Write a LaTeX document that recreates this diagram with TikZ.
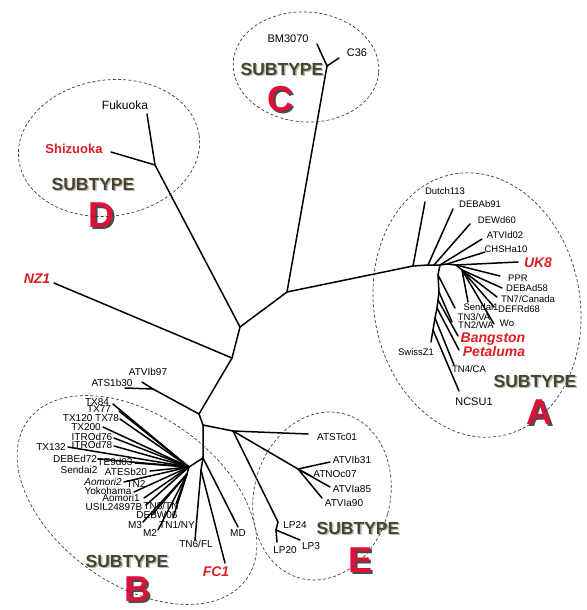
\documentclass[tikz,border=0pt]{standalone}
\usepackage{fontspec}
\setmainfont{Liberation Sans}
\usetikzlibrary{positioning}

\definecolor{strainred}{RGB}{222,30,36}
\definecolor{letterred}{RGB}{222,16,58}
\definecolor{subgray}{RGB}{72,68,44}

% text with a drop shadow in one box
\newcommand{\dropshade}[3]{\rlap{\kern#3\raisebox{-#3}{\color{#1}#2}}#2}

\begin{document}
\begin{tikzpicture}[x=1pt,y=-1pt,
		branch/.style={line width=1.5pt,line cap=round},
		clade/.style={dash pattern=on 3pt off 2.2pt,line width=0.7pt,black!75},
		strain/.style={inner sep=0pt,text height=0.72em,text depth=0pt,font=\fontsize{9.5}{10}\selectfont},
		bstrain/.style={strain,font=\fontsize{10}{11}\selectfont},
		keystrain/.style={strain,text=strainred,font=\fontsize{14}{15}\selectfont\bfseries\itshape},
		subtype/.style={inner sep=0pt,text height=12.6pt,text depth=0pt,text=subgray,font=\fontsize{17.5}{18}\selectfont\bfseries},
		letter/.style={inner sep=0pt,text height=26pt,text depth=0pt,text=letterred,font=\fontsize{36}{36}\selectfont\bfseries}]
	\useasboundingbox (0,0) rectangle (586,610);
	\fill[white] (0,0) rectangle (586,610);

	% Backbone
	\coordinate (nC) at (287,292);
	\coordinate (nD) at (240,327);
	\coordinate (nNZ) at (232,358);
	\coordinate (nLow) at (199,414);
	\coordinate (nBE) at (203,425);
	\coordinate (nB) at (203,458);
	\coordinate (nE) at (233,431);
	\draw[branch] (nC) -- (nD) -- (nNZ) -- (nLow) -- (nBE) -- (nB);
	\draw[branch] (nBE) -- (nE);

	% Subtype C
	\coordinate (cC) at (327,66);
	\coordinate (tBM) at (317,44);
	\coordinate (tC36) at (339,58);
	\draw[branch] (nC) -- (cC);
	\draw[branch] (tBM) -- (cC) -- (tC36);
	\node[strain,font=\fontsize{11}{12}\selectfont] (lBM) at (288,39) {BM3070};
	\node[strain,font=\fontsize{11}{12}\selectfont] (lC36) at (357,53) {C36};
	\node[subtype] (sC) at (282,69) {\dropshade{black!28}{SUBTYPE}{1.5pt}};
	\node[letter] (bC) at (280,98) {\dropshade{black!70}{C}{2pt}};
	\draw[clade,rotate around={-4:(306,67)}] (306,67) ellipse [x radius=73pt,y radius=55pt];

	% Subtype D
	\coordinate (dD) at (155,165);
	\coordinate (tFuk) at (147,114);
	\coordinate (tShi) at (111,152);
	\draw[branch] (nD) -- (dD) -- (tFuk);
	\draw[branch] (dD) -- (tShi);
	\node[strain,font=\fontsize{12}{13}\selectfont] (lFuk) at (125,106) {Fukuoka};
	\node[strain,text=strainred,font=\fontsize{13}{14}\selectfont\bfseries] (lShi) at (74,150) {Shizuoka};
	\node[subtype] (sD) at (93,184) {\dropshade{black!28}{SUBTYPE}{1.5pt}};
	\node[letter] (bD) at (101,214) {\dropshade{black!70}{D}{2pt}};
	\draw[clade,rotate around={8:(109,148)}] (109,148) ellipse [x radius=91pt,y radius=68pt];

	% NZ1
	\coordinate (tNZ) at (54,283);
	\draw[branch] (nNZ) -- (tNZ);
	\node[keystrain] (lNZ) at (37,280) {NZ1};

	% ATVIb97 / ATS1b30
	\coordinate (nAT) at (153,389);
	\coordinate (tATV97) at (142,382);
	\coordinate (tATS) at (125,388);
	\draw[branch] (nLow) -- (nAT) -- (tATV97);
	\draw[branch] (nAT) -- (tATS);
	\node[bstrain] (lATV97) at (148,372) {ATVIb97};
	\node[bstrain] (lATS) at (112,383) {ATS1b30};

	% Subtype A
	\coordinate (aD) at (413,266);
	\coordinate (aR) at (428,265);
	\coordinate (a1) at (434,265);
	\coordinate (a2) at (440,265);
	\coordinate (a3) at (447,264);
	\coordinate (a4) at (456,265);
	\coordinate (a5) at (462,270);
	\draw[branch] (nC) -- (aD) -- (aR) -- (a1) -- (a2) -- (a3) -- (a4) -- (a5);
	\coordinate (tDutch) at (425,202);
	\coordinate (tDEBAb) at (453,209);
	\coordinate (tDEWd) at (470,224);
	\coordinate (tATVId) at (482,239);
	\coordinate (tCHSH) at (485,252);
	\coordinate (tUK8) at (518,262);
	\coordinate (tPPR) at (500,276);
	\coordinate (tDEBAd) at (502,288);
	\coordinate (tTN7) at (497,297);
	\coordinate (tDEFR) at (494,307);
	\coordinate (tWo) at (494,324);
	\coordinate (tSen1) at (468,302);
	\draw[branch] (aD) -- (tDutch);
	\draw[branch] (aR) -- (tDEBAb);
	\draw[branch] (a1) -- (tDEWd);
	\draw[branch] (a2) -- (tATVId);
	\draw[branch] (a3) -- (tCHSH);
	\draw[branch] (a4) -- (tUK8);
	\draw[branch] (a4) -- (tPPR);
	\draw[branch] (a5) -- (tDEBAd);
	\draw[branch] (a5) -- (tTN7);
	\draw[branch] (a5) -- (tDEFR);
	\draw[branch] (a5) -- (tWo);
	\draw[branch] (a5) -- (tSen1);
	% lower fan of A
	\coordinate (aL0) at (438,275);
	\coordinate (aL1) at (439,292);
	\coordinate (aL2) at (438,300);
	\coordinate (aL3) at (437,308);
	\coordinate (aL4) at (435,318);
	\coordinate (aS) at (433,330);
	\draw[branch] (a2) -- (aL0) -- (aL1) -- (aL2) -- (aL3) -- (aL4) -- (aS);
	\coordinate (tTN3) at (455,308);
	\coordinate (tTN2WA) at (452,322);
	\coordinate (tBang) at (458,336);
	\coordinate (tPeta) at (459,350);
	\coordinate (tTN4) at (454,365);
	\coordinate (tSwiss) at (431,342);
	\coordinate (tNCSU) at (459,391);
	\draw[branch] (aL0) -- (tTN3);
	\draw[branch] (aL1) -- (tTN2WA);
	\draw[branch] (aL2) -- (tBang);
	\draw[branch] (aL3) -- (tPeta);
	\draw[branch] (aL4) -- (tTN4);
	\draw[branch] (aS) -- (tSwiss);
	\draw[branch] (aS) -- (tNCSU);
	\node[strain] (lDutch) at (445,191) {Dutch113};
	\node[strain] (lDEBAb) at (480,204) {DEBAb91};
	\node[strain] (lDEWd) at (497,220) {DEWd60};
	\node[strain] (lATVId) at (505,235) {ATVId02};
	\node[strain] (lCHSH) at (506,249) {CHSHa10};
	\node[keystrain] (lUK8) at (538,264) {UK8};
	\node[strain] (lPPR) at (518,278) {PPR};
	\node[strain] (lDEBAd) at (527,288) {DEBAd58};
	\node[strain] (lTN7) at (528,299) {TN7/Canada};
	\node[strain] (lDEFR) at (519,309) {DEFRd68};
	\node[strain] (lSen1) at (481,307) {Sendai1};
	\node[strain] (lTN3) at (474,317) {TN3/VA};
	\node[strain] (lWo) at (507,323) {Wo};
	\node[strain] (lTN2WA) at (476,325) {TN2/WA};
	\node[keystrain] (lBang) at (493,339) {Bangston};
	\node[keystrain] (lPeta) at (494,353) {Petaluma};
	\node[strain] (lSwiss) at (416,352) {SwissZ1};
	\node[strain] (lTN4) at (469,369) {TN4/CA};
	\node[strain,font=\fontsize{11}{12}\selectfont] (lNCSU) at (474,402) {NCSU1};
	\node[subtype] (sA) at (535,381) {\dropshade{black!28}{SUBTYPE}{1.5pt}};
	\node[letter] (bA) at (539,411) {\dropshade{black!70}{A}{2pt}};
	\draw[clade,rotate around={10:(477,305)}] (477,305) ellipse [x radius=103pt,y radius=133pt];

	% Subtype B
	\coordinate (nB2) at (201,470);
	\coordinate (rB) at (189,467);
	\coordinate (rB2) at (187,474);
	\coordinate (tTN6) at (195,540);
	\coordinate (tFC1) at (225,563);
	\coordinate (tMD) at (238,527);
	\draw[branch] (nB) -- (nB2) -- (tTN6);
	\draw[branch] (nB2) -- (tFC1);
	\draw[branch] (nB) -- (tMD);
	\draw[branch] (nB) -- (rB) -- (rB2);
	\coordinate (tTX84) at (113,404);
	\coordinate (tTX77) at (119,411);
	\coordinate (tTX78) at (120,419);
	\coordinate (tTX200) at (103,427);
	\coordinate (tITR76) at (114,438);
	\coordinate (tITR78) at (114,446);
	\coordinate (tTX132) at (68,447);
	\coordinate (tDEBEd) at (98,459);
	\coordinate (tTE9) at (135,463);
	\coordinate (tATESb) at (150,471);
	\coordinate (tAom2) at (124,482);
	\coordinate (tYoko) at (134,492);
	\coordinate (tAom1) at (144,498);
	\coordinate (tUSIL) at (146,505);
	\foreach \t in {tTX84,tTX77,tTX78,tTX200,tITR76,tITR78,tTX132,tDEBEd,tTE9,tATESb,tAom2,tYoko,tAom1,tUSIL}
		\draw[branch] (rB) -- (\t);
	\coordinate (tTN8) at (176,504);
	\coordinate (tDEBW) at (152,515);
	\coordinate (tM3) at (143,522);
	\coordinate (tM2) at (158,530);
	\coordinate (tTN1) at (173,518);
	\foreach \t in {tTN8,tDEBW,tM3,tM2,tTN1}
		\draw[branch] (rB2) -- (\t);
	\node[bstrain] (lTX84) at (97,402) {TX84};
	\node[bstrain] (lTX77) at (99,409) {TX77};
	\node[bstrain] (lTX78) at (91,418) {TX120 TX78};
	\node[bstrain] (lTX200) at (86,427) {TX200};
	\node[bstrain] (lITR76) at (92,437) {ITROd76};
	\node[bstrain] (lITR78) at (92,445) {ITROd78};
	\node[bstrain] (lTX132) at (51,447) {TX132};
	\node[bstrain] (lDEBEd) at (75,459) {DEBEd72};
	\node[bstrain] (lTE9) at (115,462) {TE9d03};
	\node[bstrain] (lSen2) at (79,470) {Sendai2};
	\node[bstrain] (lATESb) at (126,472) {ATESb20};
	\node[bstrain,font=\fontsize{10}{11}\selectfont\itshape] (lAom2) at (103,482) {Aomori2};
	\node[bstrain] (lTN2) at (136,484) {TN2};
	\node[bstrain] (lYoko) at (108,491) {Yokohama};
	\node[bstrain] (lAom1) at (121,498) {Aomori1};
	\node[bstrain] (lUSIL) at (114,507) {USIL24897B};
	\node[bstrain] (lTN8) at (161,506) {TN8/TN};
	\node[bstrain] (lDEBW) at (157,515) {DEBW06};
	\node[bstrain] (lM3) at (135,525) {M3};
	\node[bstrain] (lM2) at (150,533) {M2};
	\node[bstrain] (lTN1) at (177,525) {TN1/NY};
	\node[bstrain] (lTN6) at (196,544) {TN6/FL};
	\node[bstrain] (lMD) at (238,533) {MD};
	\node[keystrain] (lFC1) at (216,573) {FC1};
	\node[subtype] (sB) at (127,561) {\dropshade{black!28}{SUBTYPE}{1.5pt}};
	\node[letter] (bB) at (137,588) {\dropshade{black!70}{B}{2pt}};
	\draw[clade,rotate around={-36:(137,500)}] (137,500) ellipse [x radius=135pt,y radius=84pt];

	% Subtype E
	\coordinate (tATSTc) at (308,434);
	\coordinate (eS) at (298,469);
	\coordinate (tATVIb31) at (330,462);
	\coordinate (tATNO) at (311,476);
	\coordinate (tATVIa85) at (330,487);
	\coordinate (tATVIa90) at (322,498);
	\coordinate (lpA) at (278,522);
	\coordinate (lpB) at (276,530);
	\coordinate (tLP3) at (300,540);
	\coordinate (tLP20) at (277,542);
	\draw[branch] (nE) -- (tATSTc);
	\draw[branch] (nE) -- (eS) -- (tATVIb31);
	\draw[branch] (eS) -- (tATNO);
	\draw[branch] (eS) -- (tATVIa85);
	\draw[branch] (eS) -- (tATVIa90);
	\draw[branch] (nE) -- (lpA) -- (lpB) -- (tLP3);
	\draw[branch] (lpB) -- (tLP20);
	\node[bstrain] (lATSTc) at (337,437) {ATSTc01};
	\node[bstrain] (lATVIb31) at (352,460) {ATVIb31};
	\node[bstrain] (lATNO) at (335,474) {ATNOc07};
	\node[bstrain] (lATVIa85) at (352,489) {ATVIa85};
	\node[bstrain] (lATVIa90) at (344,503) {ATVIa90};
	\node[bstrain] (lLP24) at (295,525) {LP24};
	\node[bstrain] (lLP3) at (311,546) {LP3};
	\node[bstrain] (lLP20) at (285,550) {LP20};
	\node[subtype] (sE) at (358,528) {\dropshade{black!28}{SUBTYPE}{1.5pt}};
	\node[letter] (bE) at (361,559) {\dropshade{black!70}{E}{2pt}};
	\draw[clade,rotate around={-15:(322,496)}] (322,496) ellipse [x radius=68pt,y radius=85pt];
\end{tikzpicture}
\end{document}
